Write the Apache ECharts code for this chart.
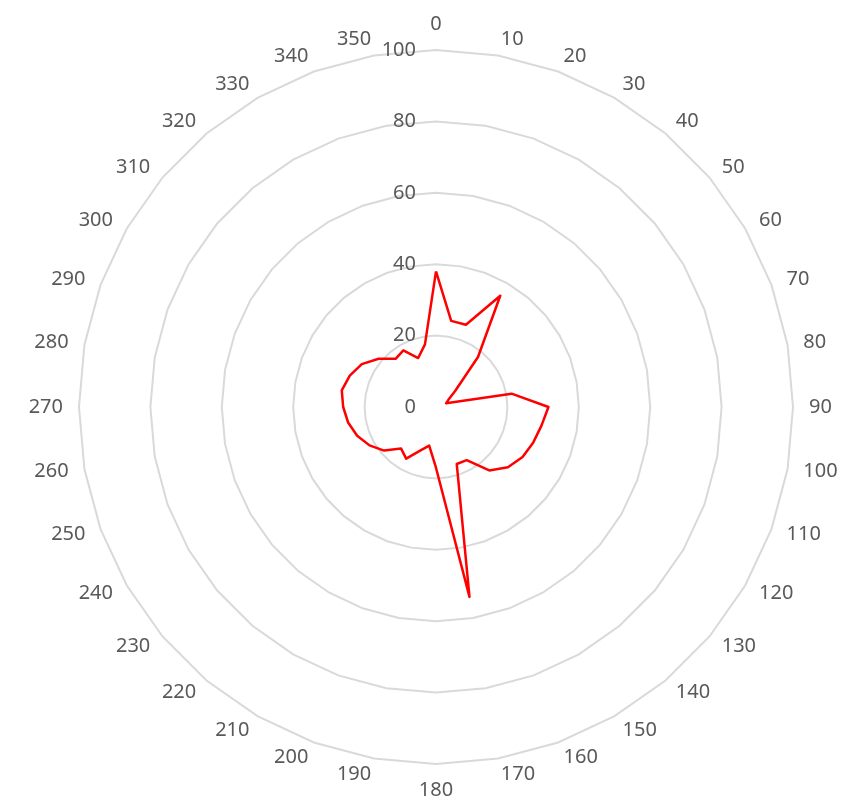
<!DOCTYPE html>
<html>
<head>
<meta charset="utf-8">
<script src="https://cdn.jsdelivr.net/npm/echarts@6/dist/echarts.min.js"></script>
<style>
html,body{margin:0;padding:0;background:#fff;}
#chart{width:848px;height:812px;}
</style>
</head>
<body>
<div id="chart"></div>
<script>
// Angle categories (degrees, clockwise from top)
var angleLabels = ['0','10','20','30','40','50','60','70','80','90','100','110','120','130','140','150','160','170',
  '180','190','200','210','220','230','240','250','260','270','280','290','300','310','320','330','340','350'];
// Series values at each angle
var values = [38, 24.5, 24.5, 36, 18.3, 7, 4, 3, 21.5, 31.5, 30, 29, 28, 26.3, 23.2, 17.2, 17, 54,
  17, 11, 13, 16.7, 15.2, 19, 21.5, 23.5, 25, 26, 26.8, 25.7, 24, 21, 17.6, 18.3, 14.6, 17.8];
// Radial scale
var rMin = 0, rMax = 100, rSplits = 5;

var n = angleLabels.length;
// ECharts radar places indicators counter-clockwise; reorder so they run clockwise.
var order = angleLabels.map(function (_, i) { return (n - i) % n; });
var textColor = '#595959';
var font = 'Noto Sans';
var indicator = order.map(function (j, k) {
  var ind = { name: angleLabels[j], min: rMin, max: rMax };
  if (k === 0) {
    ind.axisLabel = { show: true, color: textColor, fontSize: 20, fontFamily: font, margin: 20, showMinLabel: true, showMaxLabel: true };
  }
  return ind;
});
var seriesData = order.map(function (j) { return values[j]; });

var chart = echarts.init(document.getElementById('chart'));
chart.setOption({
  animation: false,
  backgroundColor: '#ffffff',
  radar: {
    center: [436, 407],
    radius: 357,
    startAngle: 90,
    splitNumber: rSplits,
    shape: 'polygon',
    indicator: indicator,
    nameGap: 16,
    axisName: { color: textColor, fontSize: 20, fontFamily: font },
    axisLine: { show: false },
    axisTick: { show: false },
    axisLabel: { show: false },
    splitArea: { show: false },
    splitLine: { lineStyle: { color: '#d9d9d9', width: 2 } }
  },
  series: [{
    type: 'radar',
    symbol: 'none',
    lineStyle: { color: '#ff0000', width: 2.5 },
    data: [{ value: seriesData }]
  }]
});
</script>
</body>
</html>
